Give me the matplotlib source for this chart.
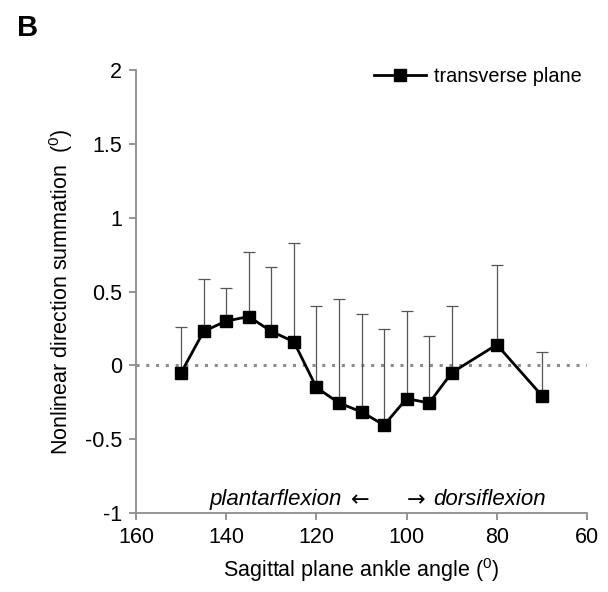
import numpy as np
import matplotlib
matplotlib.use("Agg")
import matplotlib.pyplot as plt

plt.rcParams["font.family"] = ["Liberation Sans", "DejaVu Sans"]
plt.rcParams["mathtext.fontset"] = "custom"
plt.rcParams["mathtext.rm"] = "Liberation Sans"

angles = [150, 145, 140, 135, 130, 125, 120, 115, 110, 105, 100, 95, 90, 80, 70]
values = [-0.05, 0.23, 0.30, 0.33, 0.23, 0.16, -0.15, -0.255, -0.315, -0.405,
          -0.225, -0.255, -0.05, 0.14, -0.205]
err_top = [0.257, 0.583, 0.527, 0.766, 0.669, 0.831, 0.403, 0.446, 0.349, 0.248,
           0.367, 0.198, 0.40, 0.678, 0.09]

x = np.array(angles)
y = np.array(values)
up = np.array(err_top) - y

fig = plt.figure(figsize=(6.08, 5.92), dpi=100)
ax = fig.add_axes([0.2237, 0.1334, 0.7418, 0.7484])

gray = "#8c8c8c"
ax.axhline(0, color=gray, linestyle=(0, (1, 2.2)), linewidth=2.2, zorder=1)
ax.errorbar(x, y, yerr=[np.zeros_like(up), up], fmt="none", ecolor="#555555",
            elinewidth=0.9, capsize=4, capthick=0.9, zorder=2)
ax.plot(x, y, color="black", linewidth=2, marker="s", markersize=9,
        label="transverse plane", zorder=3)

ax.set_xlim(160, 60)
ax.set_ylim(-1, 2)
ax.set_xticks([160, 140, 120, 100, 80, 60])
ax.set_yticks([-1, -0.5, 0, 0.5, 1, 1.5, 2])
ax.set_yticklabels(["-1", "-0.5", "0", "0.5", "1", "1.5", "2"])

for s in ["top", "right"]:
    ax.spines[s].set_visible(False)
for s in ["left", "bottom"]:
    ax.spines[s].set_color(gray)
    ax.spines[s].set_linewidth(1.3)
ax.tick_params(colors=gray, labelcolor="black", labelsize=15.5, width=1.3,
               length=5, direction="out")
ax.tick_params(axis="x", pad=5)
ax.tick_params(axis="y", pad=5)

ax.set_xlabel("Sagittal plane ankle angle ($\\mathrm{^{0}}$)", fontsize=15.5, labelpad=6)
ax.set_ylabel("Nonlinear direction summation  ($\\mathrm{^{0}}$)", fontsize=15.5,
              labelpad=7)

# direction hint along the bottom
ty = -0.91
ax.text(114.3, ty, "plantarflexion", style="italic", fontsize=16,
        ha="right", va="center")
ax.text(110.3, ty, "\u2190", family="DejaVu Sans", fontsize=16,
        ha="center", va="center")
ax.text(98.0, ty, "\u2192", family="DejaVu Sans", fontsize=16,
        ha="center", va="center")
ax.text(94.1, ty, "dorsiflexion", style="italic", fontsize=16,
        ha="left", va="center")

ax.legend(loc="upper right", frameon=False, fontsize=14.3, handlelength=2.6,
          handletextpad=0.4, borderaxespad=0.1, bbox_to_anchor=(1.01, 1.03))

fig.text(0.028, 0.952, "B", fontsize=21, fontweight="bold", va="center")

fig.savefig("out.png", dpi=100)
